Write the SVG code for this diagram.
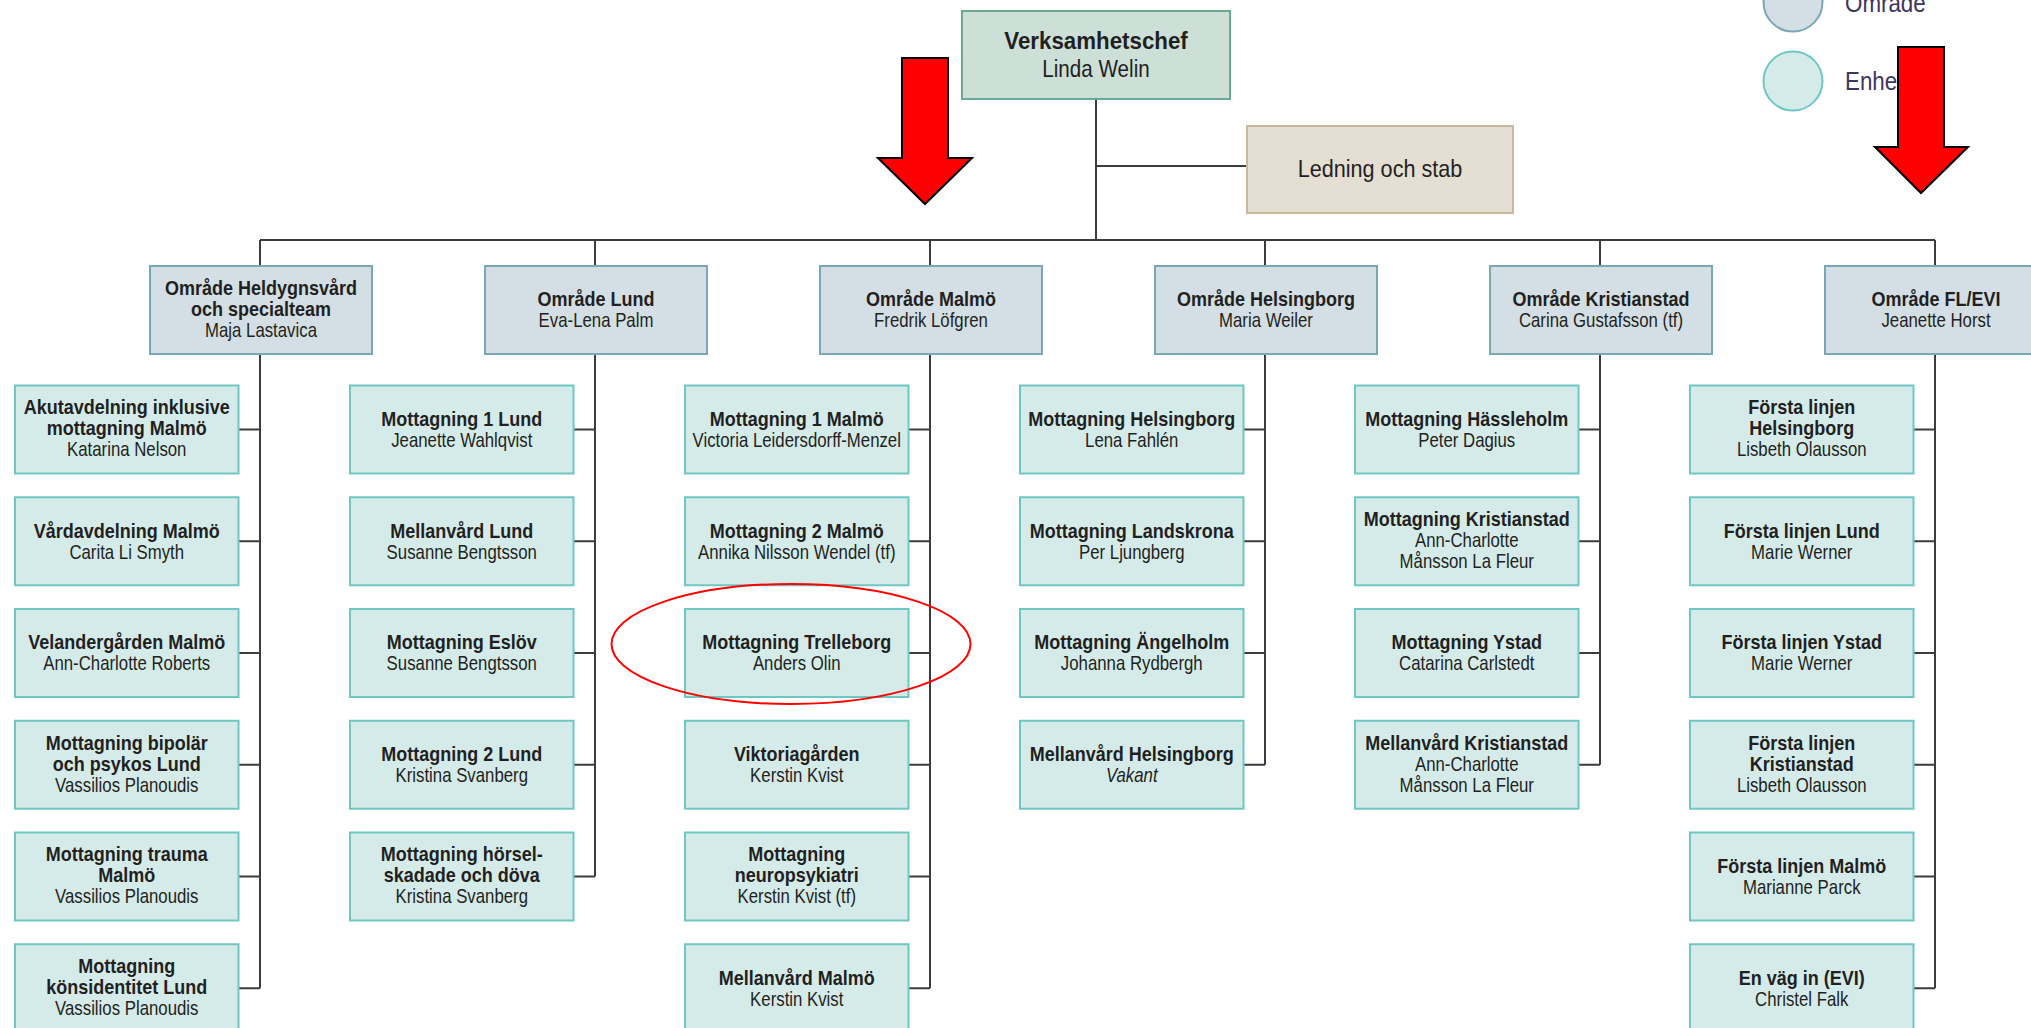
<svg xmlns="http://www.w3.org/2000/svg" width="2031" height="1028" viewBox="0 0 2031 1028">
<style>
text{font-family:"Liberation Sans",Arial,sans-serif;font-size:20px;fill:#231f20;text-anchor:middle}
.b{font-weight:bold}
.i{font-style:italic}
.big{font-size:24px}
.leg{font-size:26px;fill:#3b3560;text-anchor:start}
.unit{fill:#d4ebea;stroke:#6fc7c3;stroke-width:2}
.area{fill:#d3dfe4;stroke:#7aa7b5;stroke-width:2}
.con{fill:none;stroke:#3c3c3c;stroke-width:2}
.arrow{fill:#ff0000;stroke:#000;stroke-width:2}
</style>
<rect width="2031" height="1028" fill="#fff"/>

<g id="legend">
<circle cx="1793" cy="2" r="29.5" fill="#d3dfe4" stroke="#7aa7b5" stroke-width="2"/>
<text class="leg" transform="matrix(0.86 0 0 1 1845 0)" y="11.5">Område</text>
<circle cx="1793" cy="81" r="29.5" fill="#d4ebea" stroke="#6fc7c3" stroke-width="2"/>
<text class="leg" transform="matrix(0.86 0 0 1 1845 0)" y="90.5">Enhet</text>
</g>

<g id="connectors" class="con">
<path d="M1096 99V240M1096 166H1247M260 240H1935"/>
<path d="M260 240V266M595 240V266M930 240V266M1265 240V266M1600 240V266M1935 240V266"/>
<path d="M260 354V988.25M238.5 429.5H260M238.5 541.25H260M238.5 653H260M238.5 764.75H260M238.5 876.5H260M238.5 988.25H260"/>
<path d="M595 354V876.5M573.5 429.5H595M573.5 541.25H595M573.5 653H595M573.5 764.75H595M573.5 876.5H595"/>
<path d="M930 354V988.25M908.5 429.5H930M908.5 541.25H930M908.5 653H930M908.5 764.75H930M908.5 876.5H930M908.5 988.25H930"/>
<path d="M1265 354V764.75M1243.5 429.5H1265M1243.5 541.25H1265M1243.5 653H1265M1243.5 764.75H1265"/>
<path d="M1600 354V764.75M1578.5 429.5H1600M1578.5 541.25H1600M1578.5 653H1600M1578.5 764.75H1600"/>
<path d="M1935 354V988.25M1913.5 429.5H1935M1913.5 541.25H1935M1913.5 653H1935M1913.5 764.75H1935M1913.5 876.5H1935M1913.5 988.25H1935"/>
</g>

<g id="verksamhetschef">
<rect x="962" y="11" width="268" height="88" fill="#cce0d7" stroke="#6aaa90" stroke-width="2"/>
<text class="b big" transform="matrix(0.93 0 0 1 1096 0)" y="49.5">Verksamhetschef</text>
<text class="big" transform="matrix(0.86 0 0 1 1096 0)" y="77.5">Linda Welin</text>
</g>
<g id="ledning">
<rect x="1247" y="126" width="266" height="87" fill="#e5ded2" stroke="#c9b99c" stroke-width="2"/>
<text class="big" transform="matrix(0.9 0 0 1 1380 0)" y="177">Ledning och stab</text>
</g>

<g id="omr-heldygn"><rect class="area" x="150" y="266" width="222" height="88"/>
<text class="b" transform="matrix(0.9 0 0 1 261 0)" y="295">Område Heldygnsvård</text>
<text class="b" transform="matrix(0.9 0 0 1 261 0)" y="316">och specialteam</text>
<text transform="matrix(0.84 0 0 1 261 0)" y="337">Maja Lastavica</text></g>
<g id="omr-lund"><rect class="area" x="485" y="266" width="222" height="88"/>
<text class="b" transform="matrix(0.9 0 0 1 596 0)" y="306.5">Område Lund</text>
<text transform="matrix(0.84 0 0 1 596 0)" y="327.5">Eva-Lena Palm</text></g>
<g id="omr-malmo"><rect class="area" x="820" y="266" width="222" height="88"/>
<text class="b" transform="matrix(0.9 0 0 1 931 0)" y="306.5">Område Malmö</text>
<text transform="matrix(0.84 0 0 1 931 0)" y="327.5">Fredrik Löfgren</text></g>
<g id="omr-helsingborg"><rect class="area" x="1155" y="266" width="222" height="88"/>
<text class="b" transform="matrix(0.9 0 0 1 1266 0)" y="306.5">Område Helsingborg</text>
<text transform="matrix(0.84 0 0 1 1266 0)" y="327.5">Maria Weiler</text></g>
<g id="omr-kristianstad"><rect class="area" x="1490" y="266" width="222" height="88"/>
<text class="b" transform="matrix(0.9 0 0 1 1601 0)" y="306.5">Område Kristianstad</text>
<text transform="matrix(0.84 0 0 1 1601 0)" y="327.5">Carina Gustafsson (tf)</text></g>
<g id="omr-flevi"><rect class="area" x="1825" y="266" width="222" height="88"/>
<text class="b" transform="matrix(0.9 0 0 1 1936 0)" y="306.5">Område FL/EVI</text>
<text transform="matrix(0.84 0 0 1 1936 0)" y="327.5">Jeanette Horst</text></g>

<!-- Column Heldygn -->
<g id="u-akut"><rect class="unit" x="15" y="385.5" width="223.5" height="88"/>
<text class="b" transform="matrix(0.9 0 0 1 126.75 0)" y="414.5">Akutavdelning inklusive</text>
<text class="b" transform="matrix(0.9 0 0 1 126.75 0)" y="435.5">mottagning Malmö</text>
<text transform="matrix(0.84 0 0 1 126.75 0)" y="456.5">Katarina Nelson</text></g>
<g id="u-vard"><rect class="unit" x="15" y="497.25" width="223.5" height="88"/>
<text class="b" transform="matrix(0.9 0 0 1 126.75 0)" y="537.75">Vårdavdelning Malmö</text>
<text transform="matrix(0.84 0 0 1 126.75 0)" y="558.75">Carita Li Smyth</text></g>
<g id="u-velander"><rect class="unit" x="15" y="609" width="223.5" height="88"/>
<text class="b" transform="matrix(0.9 0 0 1 126.75 0)" y="649.5">Velandergården Malmö</text>
<text transform="matrix(0.84 0 0 1 126.75 0)" y="670.5">Ann-Charlotte Roberts</text></g>
<g id="u-bipolar"><rect class="unit" x="15" y="720.75" width="223.5" height="88"/>
<text class="b" transform="matrix(0.9 0 0 1 126.75 0)" y="749.75">Mottagning bipolär</text>
<text class="b" transform="matrix(0.9 0 0 1 126.75 0)" y="770.75">och psykos Lund</text>
<text transform="matrix(0.84 0 0 1 126.75 0)" y="791.75">Vassilios Planoudis</text></g>
<g id="u-trauma"><rect class="unit" x="15" y="832.5" width="223.5" height="88"/>
<text class="b" transform="matrix(0.9 0 0 1 126.75 0)" y="861.5">Mottagning trauma</text>
<text class="b" transform="matrix(0.9 0 0 1 126.75 0)" y="882.5">Malmö</text>
<text transform="matrix(0.84 0 0 1 126.75 0)" y="903.5">Vassilios Planoudis</text></g>
<g id="u-kons"><rect class="unit" x="15" y="944.25" width="223.5" height="88"/>
<text class="b" transform="matrix(0.9 0 0 1 126.75 0)" y="973.25">Mottagning</text>
<text class="b" transform="matrix(0.9 0 0 1 126.75 0)" y="994.25">könsidentitet Lund</text>
<text transform="matrix(0.84 0 0 1 126.75 0)" y="1015.25">Vassilios Planoudis</text></g>

<!-- Column Lund -->
<g id="u-m1lund"><rect class="unit" x="350" y="385.5" width="223.5" height="88"/>
<text class="b" transform="matrix(0.9 0 0 1 461.75 0)" y="426">Mottagning 1 Lund</text>
<text transform="matrix(0.84 0 0 1 461.75 0)" y="447">Jeanette Wahlqvist</text></g>
<g id="u-mellund"><rect class="unit" x="350" y="497.25" width="223.5" height="88"/>
<text class="b" transform="matrix(0.9 0 0 1 461.75 0)" y="537.75">Mellanvård Lund</text>
<text transform="matrix(0.84 0 0 1 461.75 0)" y="558.75">Susanne Bengtsson</text></g>
<g id="u-eslov"><rect class="unit" x="350" y="609" width="223.5" height="88"/>
<text class="b" transform="matrix(0.9 0 0 1 461.75 0)" y="649.5">Mottagning Eslöv</text>
<text transform="matrix(0.84 0 0 1 461.75 0)" y="670.5">Susanne Bengtsson</text></g>
<g id="u-m2lund"><rect class="unit" x="350" y="720.75" width="223.5" height="88"/>
<text class="b" transform="matrix(0.9 0 0 1 461.75 0)" y="761.25">Mottagning 2 Lund</text>
<text transform="matrix(0.84 0 0 1 461.75 0)" y="782.25">Kristina Svanberg</text></g>
<g id="u-horsel"><rect class="unit" x="350" y="832.5" width="223.5" height="88"/>
<text class="b" transform="matrix(0.9 0 0 1 461.75 0)" y="861.5">Mottagning hörsel-</text>
<text class="b" transform="matrix(0.9 0 0 1 461.75 0)" y="882.5">skadade och döva</text>
<text transform="matrix(0.84 0 0 1 461.75 0)" y="903.5">Kristina Svanberg</text></g>

<!-- Column Malmö -->
<g id="u-m1malmo"><rect class="unit" x="685" y="385.5" width="223.5" height="88"/>
<text class="b" transform="matrix(0.9 0 0 1 796.75 0)" y="426">Mottagning 1 Malmö</text>
<text transform="matrix(0.84 0 0 1 796.75 0)" y="447">Victoria Leidersdorff-Menzel</text></g>
<g id="u-m2malmo"><rect class="unit" x="685" y="497.25" width="223.5" height="88"/>
<text class="b" transform="matrix(0.9 0 0 1 796.75 0)" y="537.75">Mottagning 2 Malmö</text>
<text transform="matrix(0.84 0 0 1 796.75 0)" y="558.75">Annika Nilsson Wendel (tf)</text></g>
<g id="u-trelleborg"><rect class="unit" x="685" y="609" width="223.5" height="88"/>
<text class="b" transform="matrix(0.9 0 0 1 796.75 0)" y="649.5">Mottagning Trelleborg</text>
<text transform="matrix(0.84 0 0 1 796.75 0)" y="670.5">Anders Olin</text></g>
<g id="u-viktoria"><rect class="unit" x="685" y="720.75" width="223.5" height="88"/>
<text class="b" transform="matrix(0.9 0 0 1 796.75 0)" y="761.25">Viktoriagården</text>
<text transform="matrix(0.84 0 0 1 796.75 0)" y="782.25">Kerstin Kvist</text></g>
<g id="u-neuro"><rect class="unit" x="685" y="832.5" width="223.5" height="88"/>
<text class="b" transform="matrix(0.9 0 0 1 796.75 0)" y="861.5">Mottagning</text>
<text class="b" transform="matrix(0.9 0 0 1 796.75 0)" y="882.5">neuropsykiatri</text>
<text transform="matrix(0.84 0 0 1 796.75 0)" y="903.5">Kerstin Kvist (tf)</text></g>
<g id="u-melmalmo"><rect class="unit" x="685" y="944.25" width="223.5" height="88"/>
<text class="b" transform="matrix(0.9 0 0 1 796.75 0)" y="984.75">Mellanvård Malmö</text>
<text transform="matrix(0.84 0 0 1 796.75 0)" y="1005.75">Kerstin Kvist</text></g>

<!-- Column Helsingborg -->
<g id="u-mhbg"><rect class="unit" x="1020" y="385.5" width="223.5" height="88"/>
<text class="b" transform="matrix(0.9 0 0 1 1131.75 0)" y="426">Mottagning Helsingborg</text>
<text transform="matrix(0.84 0 0 1 1131.75 0)" y="447">Lena Fahlén</text></g>
<g id="u-landskrona"><rect class="unit" x="1020" y="497.25" width="223.5" height="88"/>
<text class="b" transform="matrix(0.9 0 0 1 1131.75 0)" y="537.75">Mottagning Landskrona</text>
<text transform="matrix(0.84 0 0 1 1131.75 0)" y="558.75">Per Ljungberg</text></g>
<g id="u-angelholm"><rect class="unit" x="1020" y="609" width="223.5" height="88"/>
<text class="b" transform="matrix(0.9 0 0 1 1131.75 0)" y="649.5">Mottagning Ängelholm</text>
<text transform="matrix(0.84 0 0 1 1131.75 0)" y="670.5">Johanna Rydbergh</text></g>
<g id="u-melhbg"><rect class="unit" x="1020" y="720.75" width="223.5" height="88"/>
<text class="b" transform="matrix(0.9 0 0 1 1131.75 0)" y="761.25">Mellanvård Helsingborg</text>
<text class="i" transform="matrix(0.84 0 0 1 1131.75 0)" y="782.25">Vakant</text></g>

<!-- Column Kristianstad -->
<g id="u-hassleholm"><rect class="unit" x="1355" y="385.5" width="223.5" height="88"/>
<text class="b" transform="matrix(0.9 0 0 1 1466.75 0)" y="426">Mottagning Hässleholm</text>
<text transform="matrix(0.84 0 0 1 1466.75 0)" y="447">Peter Dagius</text></g>
<g id="u-mkristianstad"><rect class="unit" x="1355" y="497.25" width="223.5" height="88"/>
<text class="b" transform="matrix(0.9 0 0 1 1466.75 0)" y="526.25">Mottagning Kristianstad</text>
<text transform="matrix(0.84 0 0 1 1466.75 0)" y="547.25">Ann-Charlotte</text>
<text transform="matrix(0.84 0 0 1 1466.75 0)" y="568.25">Månsson La Fleur</text></g>
<g id="u-ystad"><rect class="unit" x="1355" y="609" width="223.5" height="88"/>
<text class="b" transform="matrix(0.9 0 0 1 1466.75 0)" y="649.5">Mottagning Ystad</text>
<text transform="matrix(0.84 0 0 1 1466.75 0)" y="670.5">Catarina Carlstedt</text></g>
<g id="u-melkristianstad"><rect class="unit" x="1355" y="720.75" width="223.5" height="88"/>
<text class="b" transform="matrix(0.9 0 0 1 1466.75 0)" y="749.75">Mellanvård Kristianstad</text>
<text transform="matrix(0.84 0 0 1 1466.75 0)" y="770.75">Ann-Charlotte</text>
<text transform="matrix(0.84 0 0 1 1466.75 0)" y="791.75">Månsson La Fleur</text></g>

<!-- Column FL/EVI -->
<g id="u-flhbg"><rect class="unit" x="1690" y="385.5" width="223.5" height="88"/>
<text class="b" transform="matrix(0.9 0 0 1 1801.75 0)" y="414.5">Första linjen</text>
<text class="b" transform="matrix(0.9 0 0 1 1801.75 0)" y="435.5">Helsingborg</text>
<text transform="matrix(0.84 0 0 1 1801.75 0)" y="456.5">Lisbeth Olausson</text></g>
<g id="u-fllund"><rect class="unit" x="1690" y="497.25" width="223.5" height="88"/>
<text class="b" transform="matrix(0.9 0 0 1 1801.75 0)" y="537.75">Första linjen Lund</text>
<text transform="matrix(0.84 0 0 1 1801.75 0)" y="558.75">Marie Werner</text></g>
<g id="u-flystad"><rect class="unit" x="1690" y="609" width="223.5" height="88"/>
<text class="b" transform="matrix(0.9 0 0 1 1801.75 0)" y="649.5">Första linjen Ystad</text>
<text transform="matrix(0.84 0 0 1 1801.75 0)" y="670.5">Marie Werner</text></g>
<g id="u-flkristianstad"><rect class="unit" x="1690" y="720.75" width="223.5" height="88"/>
<text class="b" transform="matrix(0.9 0 0 1 1801.75 0)" y="749.75">Första linjen</text>
<text class="b" transform="matrix(0.9 0 0 1 1801.75 0)" y="770.75">Kristianstad</text>
<text transform="matrix(0.84 0 0 1 1801.75 0)" y="791.75">Lisbeth Olausson</text></g>
<g id="u-flmalmo"><rect class="unit" x="1690" y="832.5" width="223.5" height="88"/>
<text class="b" transform="matrix(0.9 0 0 1 1801.75 0)" y="873">Första linjen Malmö</text>
<text transform="matrix(0.84 0 0 1 1801.75 0)" y="894">Marianne Parck</text></g>
<g id="u-evi"><rect class="unit" x="1690" y="944.25" width="223.5" height="88"/>
<text class="b" transform="matrix(0.9 0 0 1 1801.75 0)" y="984.75">En väg in (EVI)</text>
<text transform="matrix(0.84 0 0 1 1801.75 0)" y="1005.75">Christel Falk</text></g>

<g id="annotations">
<polygon class="arrow" points="902,58 948,58 948,158 972,158 925,204 878,158 902,158"/>
<polygon class="arrow" points="1898,47 1944,47 1944,147 1968,147 1921,193 1875,147 1898,147"/>
<ellipse cx="791" cy="644" rx="179.5" ry="60" fill="none" stroke="#ff0000" stroke-width="2"/>
</g>
</svg>
